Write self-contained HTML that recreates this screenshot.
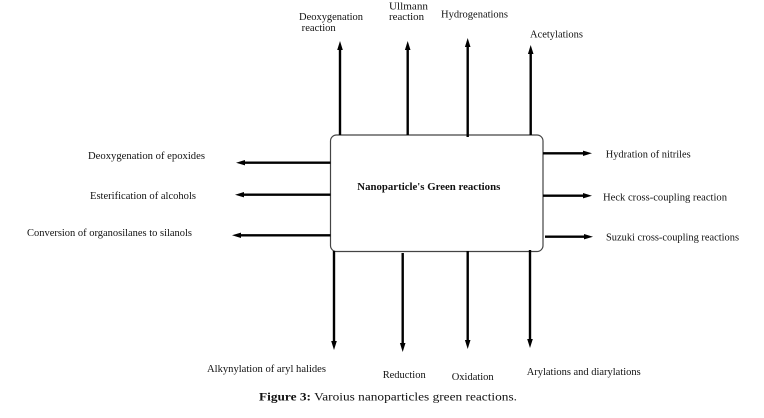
<!DOCTYPE html>
<html>
<head>
<meta charset="utf-8">
<style>
  html,body{margin:0;padding:0;background:#fff;}
  svg{display:block;}
  text{font-family:"Liberation Serif",serif;font-size:10.5px;fill:#111;}
</style>
</head>
<body>
<svg width="764" height="418" viewBox="0 0 764 418" xmlns="http://www.w3.org/2000/svg">
  <!-- central box -->
  <rect x="330.5" y="135" width="212.5" height="116.5" rx="6" ry="6" fill="#fff" stroke="#444" stroke-width="1.2"/>
  <text x="357.3" y="190" font-weight="bold" textLength="143" lengthAdjust="spacingAndGlyphs">Nanoparticle's  Green reactions</text>

  <g stroke="#000" stroke-width="2.4" fill="none">
    <!-- top arrows -->
    <line x1="340" y1="135" x2="340" y2="48"/>
    <line x1="407.7" y1="135" x2="407.7" y2="48"/>
    <line x1="467.7" y1="137" x2="467.7" y2="45"/>
    <line x1="530.7" y1="135" x2="530.7" y2="52"/>
    <!-- left arrows -->
    <line x1="330.5" y1="162.7" x2="243" y2="162.7"/>
    <line x1="330.5" y1="194.7" x2="242" y2="194.7"/>
    <line x1="330.5" y1="235.3" x2="239" y2="235.3"/>
    <!-- right arrows -->
    <line x1="543" y1="153.3" x2="585" y2="153.3"/>
    <line x1="543" y1="195.7" x2="585" y2="195.7"/>
    <line x1="545" y1="236.7" x2="586" y2="236.7"/>
    <!-- bottom arrows -->
    <line x1="334" y1="251" x2="334" y2="343"/>
    <line x1="402.7" y1="253" x2="402.7" y2="345"/>
    <line x1="467.7" y1="251" x2="467.7" y2="342"/>
    <line x1="530" y1="250" x2="530" y2="341"/>
  </g>

  <g fill="#000">
    <!-- top heads -->
    <polygon points="340,41 337.2,50 342.8,50"/>
    <polygon points="407.7,41 404.9,50 410.5,50"/>
    <polygon points="467.7,38 464.9,47 470.5,47"/>
    <polygon points="530.7,45 527.9,54 533.5,54"/>
    <!-- left heads -->
    <polygon points="236,162.7 245,160 245,165.4"/>
    <polygon points="235,194.7 244,192 244,197.4"/>
    <polygon points="232,235.3 241,232.6 241,238"/>
    <!-- right heads -->
    <polygon points="592,153.3 583,150.6 583,156"/>
    <polygon points="592,195.7 583,193 583,198.4"/>
    <polygon points="593,236.7 584,234 584,239.4"/>
    <!-- bottom heads -->
    <polygon points="334,350 331.2,341 336.8,341"/>
    <polygon points="402.7,352 399.9,343 405.5,343"/>
    <polygon points="467.7,349 464.9,340 470.5,340"/>
    <polygon points="530,348 527.2,339 532.8,339"/>
  </g>

  <!-- top labels -->
  <text x="299" y="20" textLength="64" lengthAdjust="spacingAndGlyphs">Deoxygenation</text>
  <text x="301.7" y="31" textLength="34" lengthAdjust="spacingAndGlyphs">reaction</text>
  <text x="389" y="9.5" textLength="39" lengthAdjust="spacingAndGlyphs">Ullmann</text>
  <text x="389" y="20" textLength="35" lengthAdjust="spacingAndGlyphs">reaction</text>
  <text x="441" y="17.5" textLength="67" lengthAdjust="spacingAndGlyphs">Hydrogenations</text>
  <text x="530" y="37.5" textLength="53" lengthAdjust="spacingAndGlyphs">Acetylations</text>

  <!-- left labels -->
  <text x="88" y="159" textLength="117" lengthAdjust="spacingAndGlyphs">Deoxygenation of epoxides</text>
  <text x="90" y="199" textLength="106" lengthAdjust="spacingAndGlyphs">Esterification of alcohols</text>
  <text x="27" y="236" textLength="165" lengthAdjust="spacingAndGlyphs">Conversion of organosilanes to silanols</text>

  <!-- right labels -->
  <text x="605.7" y="157.5" textLength="85" lengthAdjust="spacingAndGlyphs">Hydration of nitriles</text>
  <text x="603" y="200.5" textLength="124" lengthAdjust="spacingAndGlyphs">Heck cross-coupling reaction</text>
  <text x="606" y="240.5" textLength="133" lengthAdjust="spacingAndGlyphs">Suzuki cross-coupling reactions</text>

  <!-- bottom labels -->
  <text x="207" y="372" textLength="119" lengthAdjust="spacingAndGlyphs">Alkynylation of aryl halides</text>
  <text x="382.7" y="378" textLength="43" lengthAdjust="spacingAndGlyphs">Reduction</text>
  <text x="451.7" y="380" textLength="42" lengthAdjust="spacingAndGlyphs">Oxidation</text>
  <text x="526.7" y="375" textLength="114" lengthAdjust="spacingAndGlyphs">Arylations and diarylations</text>

  <!-- caption -->
  <text x="259" y="400.5" style="font-size:12px" textLength="258" lengthAdjust="spacingAndGlyphs"><tspan font-weight="bold">Figure 3:</tspan> Varoius nanoparticles green reactions.</text>
</svg>
</body>
</html>
